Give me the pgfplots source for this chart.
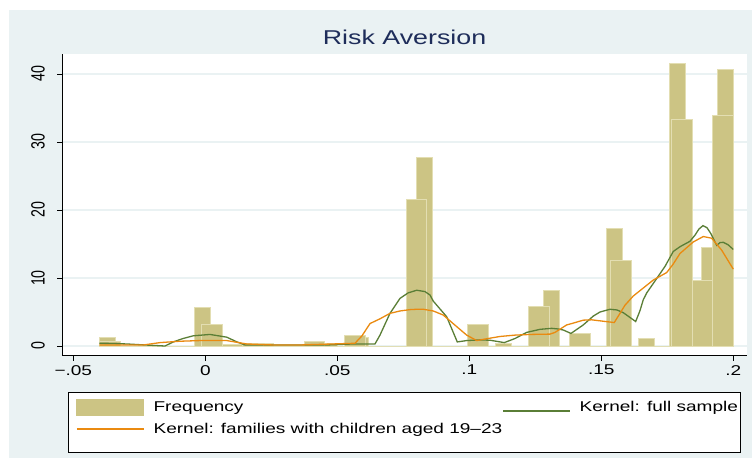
\documentclass[border=0pt]{standalone}
\usepackage{fontspec}
\setmainfont{Liberation Sans}[FakeStretch=1.34]
\newfontfamily\rotfont{Liberation Sans}[FakeStretch=0.74]
\usepackage{pgfplots}
\pgfplotsset{compat=1.18}
\definecolor{bg}{HTML}{EAF2F3}
\definecolor{khaki}{HTML}{CCC484}
\definecolor{khakiedge}{HTML}{E3DEB2}
\definecolor{kgreen}{HTML}{5A7E36}
\definecolor{korange}{HTML}{EA8A10}
\definecolor{navy}{HTML}{1E2D5A}
\pgfplotsset{
  lineleg/.style={legend image code/.code={\draw[##1, line width=1.4bp] (0bp,0.5bp) -- (67bp,0.5bp);}},
  lowlineleg/.style={legend image code/.code={\draw[##1, line width=1.4bp] (0bp,-4bp) -- (67bp,-4bp);}},
  barleg/.style={legend image code/.code={\fill[khaki] (0bp,-8bp) rectangle (67bp,8bp);}},
}
\begin{document}
\begin{tikzpicture}
\path[use as bounding box] (0,0) rectangle (752bp,458bp);
\fill[white] (0,0) rectangle (752bp,458bp);
\fill[bg] (8.6bp,0) rectangle (752bp,448bp);
\draw[black, line width=0.8bp, fill=white] (68bp,5.3bp) rectangle (740bp,66bp);
\begin{axis}[
  scale only axis, width=685bp, height=302bp,
  at={(62bp,102bp)}, anchor=south west,
  xmin=-0.05428, xmax=0.2052, ymin=-1.47, ymax=42.94,
  axis x line*=bottom, axis y line*=left,
  axis line style={line width=1bp, black},
  axis background/.style={fill=white},
  scaled x ticks=false, scaled y ticks=false,
  xtick={-0.05,0,0.05,0.1,0.15,0.2},
  xticklabels={−.05,0,.05,.1,.15,.2},
  ytick={0,10,20,30,40},
  yticklabels={0,10,20,30,40},
  tick align=outside, major tick length=5bp,
  tick style={black, line width=0.8bp},
  ymajorgrids, major grid style={bg, line width=1.2bp},
  xticklabel style={font=\fontsize{14.2bp}{17bp}\selectfont, inner sep=0pt, anchor=north},
  xticklabel shift=4bp,
  yticklabel style={font=\rotfont\fontsize{19.2bp}{22bp}\selectfont, rotate=90, anchor=south, inner sep=0pt},
  yticklabel shift=12bp,
  title={Risk Aversion},
  title style={font=\fontsize{20bp}{24bp}\selectfont, text=navy, at={(0.5,1)}, anchor=base, yshift=4bp},
  legend columns=2,
  legend style={draw=none, fill=none, at={(0.02044,-0.1401)}, anchor=north west, inner sep=0pt,
    font=\fontsize{14.2bp}{17bp}\selectfont, nodes={inner sep=0pt}, row sep=8bp,
    /tikz/every odd column/.append style={column sep=9bp},
    /tikz/every even column/.append style={column sep=0bp}},
  legend cell align=left,
]
% narrower-bin histogram
\addplot[ybar interval, fill=khaki, draw=khakiedge, line width=1bp, forget plot] coordinates {
(-0.04,1.3) (-0.034,0) (-0.028,0) (-0.022,0) (-0.016,0) (-0.010,0) (-0.004,5.6) (0.002,0) (0.008,0) (0.014,0)
(0.020,0.3) (0.026,0) (0.032,0) (0.038,0) (0.044,0.4) (0.050,0) (0.056,1.3) (0.062,0) (0.068,0) (0.074,0)
(0.080,27.7) (0.086,0) (0.092,0) (0.098,0) (0.104,0) (0.110,0.3) (0.116,0) (0.122,0) (0.128,8.1) (0.134,0)
(0.140,0) (0.146,0) (0.152,17.3) (0.158,0) (0.164,1.1) (0.170,0) (0.176,41.5) (0.182,0) (0.188,14.5) (0.194,40.6) (0.200,0)};
% wider-bin histogram
\addplot[ybar interval, fill=khaki, draw=khakiedge, line width=1bp, barleg] coordinates {
(-0.04,0.7) (-0.032258,0) (-0.024516,0) (-0.016774,0) (-0.009032,0) (-0.001290,3.2) (0.006452,0.15) (0.014194,0.3)
(0.021935,0) (0.029677,0) (0.037419,0.6) (0.045161,0) (0.052903,1.5) (0.060645,0) (0.068387,0) (0.076129,21.6)
(0.083871,0) (0.091613,0) (0.099355,3.1) (0.107097,0) (0.114839,0) (0.122581,5.8) (0.130323,0) (0.138065,1.9)
(0.145806,0) (0.153548,12.5) (0.161290,0) (0.169032,0) (0.176774,33.3) (0.184516,9.7) (0.192258,33.9) (0.2,0)};
\addlegendentry{Frequency}
\addplot[kgreen, line width=1.3bp, lowlineleg] coordinates {
(-0.04015,0.4) (-0.0361,0.38) (-0.02977,0.3) (-0.02284,0.15) (-0.01527,0.0) (-0.01212,0.6) (-0.00845,1.1)
(-0.00455,1.5) (0.00178,1.7) (0.00811,1.3) (0.012,0.6) (0.01504,0.15) (0.02576,0.15) (0.04598,0.15)
(0.05606,0.3) (0.06428,0.3) (0.06617,1.6) (0.06996,4.8) (0.07375,7.0) (0.07678,7.8) (0.08008,8.2)
(0.08322,8.0) (0.08511,7.5) (0.08636,6.6) (0.09144,4.3) (0.09545,0.6) (0.09902,0.8) (0.10405,0.9)
(0.10784,0.85) (0.11326,0.5) (0.11731,1.1) (0.12174,2.0) (0.12678,2.45) (0.13121,2.6) (0.13371,2.5)
(0.13561,2.35) (0.13852,1.85) (0.14318,3.1) (0.14697,4.4) (0.14951,5.0) (0.1533,5.4) (0.15595,5.3)
(0.15833,4.9) (0.16087,4.2) (0.16303,3.6) (0.16466,5.2) (0.1659,6.8) (0.1672,7.8) (0.1697,9.2)
(0.17413,11.7) (0.17727,13.9) (0.17981,14.6) (0.1817,15.0) (0.1836,15.4) (0.18549,16.3) (0.187,17.2)
(0.18852,17.7) (0.19004,17.4) (0.19155,16.5) (0.19371,14.8) (0.19496,15.2) (0.19621,15.25) (0.19799,14.9) (0.2,14.2)};
\addlegendentry{Kernel: full sample}
\addplot[korange, line width=1.3bp, lineleg] coordinates {
(-0.04015,0.15) (-0.02348,0.15) (-0.01716,0.5) (-0.00958,0.7) (-0.00201,0.8) (0.00811,0.8) (0.01568,0.3)
(0.02576,0.15) (0.03587,0.15) (0.0567,0.4) (0.05936,1.5) (0.06239,3.3) (0.06617,4.0) (0.06996,4.8)
(0.07375,5.15) (0.07754,5.35) (0.08008,5.4) (0.08258,5.4) (0.08636,5.15) (0.09015,4.55) (0.09523,2.85)
(0.09902,1.6) (0.1028,0.8) (0.10708,1.1) (0.11163,1.4) (0.11731,1.6) (0.12299,1.7) (0.13057,1.75)
(0.13246,2.0) (0.13689,3.1) (0.13879,3.3) (0.14318,3.8) (0.14636,3.85) (0.14951,3.7) (0.15492,3.45)
(0.15708,4.8) (0.15898,6.0) (0.16212,7.35) (0.1697,9.7) (0.17477,10.8) (0.17716,12.0) (0.17981,13.6)
(0.18485,15.3) (0.18864,16.1) (0.19182,15.85) (0.1956,14.1) (0.2,11.3)};
\addlegendentry{Kernel: families with children aged 19–23}
\end{axis}
\end{tikzpicture}
\end{document}
